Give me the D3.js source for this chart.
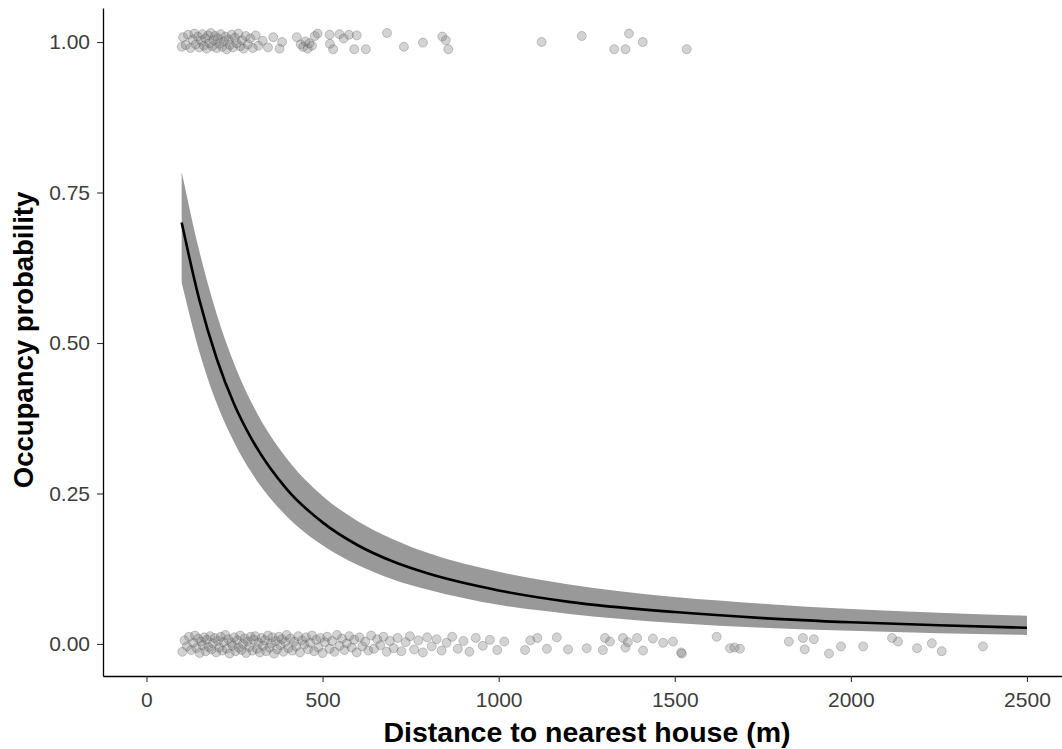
<!DOCTYPE html>
<html>
<head>
<meta charset="utf-8">
<script src="https://cdn.jsdelivr.net/npm/d3@7"></script>
<style>
  html, body { margin: 0; padding: 0; background: #fff; }
  svg { display: block; }
  text { font-family: "Liberation Sans", Arial, sans-serif; }
</style>
</head>
<body>
<svg id="chart" width="1062" height="749"></svg>
<script>
// ---------- data ----------
const xTicks = [0, 500, 1000, 1500, 2000, 2500];
const yTicks = [0, 0.25, 0.5, 0.75, 1.0];
const xTitle = "Distance to nearest house (m)";
const yTitle = "Occupancy probability";

// fitted curve and confidence band
const curveDist = [100, 150, 200, 250, 300, 400, 500, 600, 700, 800, 1000, 1200, 1500, 1750, 2000, 2250, 2500];
const fitP = [0.700, 0.572, 0.473, 0.397, 0.339, 0.256, 0.202, 0.164, 0.137, 0.117, 0.089, 0.070, 0.053, 0.043, 0.036, 0.031, 0.027];
const loP  = [0.600, 0.486, 0.399, 0.334, 0.283, 0.211, 0.164, 0.131, 0.107, 0.090, 0.065, 0.050, 0.035, 0.027, 0.022, 0.018, 0.015];
const hiP  = [0.784, 0.653, 0.547, 0.464, 0.399, 0.307, 0.246, 0.204, 0.174, 0.151, 0.120, 0.099, 0.078, 0.067, 0.058, 0.052, 0.047];

// occupied sites (jittered around 1)
const presentPoints = [
 [100,0.992],[104,1.008],[112,0.995],[118,1.012],[125,0.990],[131,1.004],[136,1.014],[140,0.996],[146,1.009],[150,0.991],
 [155,1.002],[159,1.013],[163,0.994],[167,1.006],[171,0.989],[175,1.011],[179,0.998],[183,1.015],[187,0.993],[191,1.003],
 [195,1.010],[199,0.990],[203,1.006],[207,0.997],[211,1.013],[215,0.992],[220,1.001],[224,1.009],[228,0.988],[233,1.004],
 [237,0.995],[242,1.012],[246,0.991],[251,1.007],[256,0.998],[261,1.014],[266,0.993],[271,1.003],[276,0.989],[282,1.010],
 [288,0.996],[295,1.006],[302,0.990],[310,1.011],[318,0.994],[330,1.002],[345,0.991],[360,1.008],[378,0.989],[385,1.000],
 [427,1.008],[438,0.996],[445,0.992],[452,1.001],[458,0.989],[463,0.998],[470,0.994],[478,1.010],[486,1.014],[520,1.012],
 [521,0.997],[530,0.988],[548,1.013],[560,1.006],[575,1.012],[590,0.988],[597,1.011],[623,0.988],[683,1.015],[731,0.992],
 [785,0.999],[840,1.009],[850,1.003],[857,0.988],[1122,1.000],[1236,1.010],[1328,0.988],[1360,0.988],[1370,1.014],[1409,1.000],
 [1534,0.988]
];

// unoccupied sites (jittered around 0)
const absentPoints = [
 [102,-0.013],[108,0.006],[115,-0.004],[121,0.012],[127,-0.010],[133,0.002],[138,0.014],[142,-0.007],[147,0.009],[151,-0.015],
 [156,0.004],[160,-0.002],[164,0.011],[168,-0.012],[172,0.007],[176,-0.005],[181,0.013],[185,-0.009],[189,0.001],[194,0.010],
 [198,-0.014],[203,0.005],[207,-0.006],[211,0.012],[215,-0.011],[219,0.003],[224,0.015],[228,-0.008],[232,0.008],[236,-0.016],
 [241,0.002],[245,-0.003],[249,0.011],[253,-0.012],[258,0.006],[262,-0.006],[266,0.014],[270,-0.010],[274,0.000],[279,0.009],
 [283,-0.015],[287,0.004],[292,-0.005],[296,0.012],[301,-0.011],[305,0.007],[309,0.013],[314,-0.008],[318,0.002],[322,-0.014],
 [327,0.010],[331,-0.003],[336,0.006],[340,-0.012],[345,0.014],[349,-0.006],[354,0.001],[358,0.011],[362,-0.016],[367,0.005],
 [371,-0.009],[376,0.012],[380,-0.002],[385,0.008],[389,-0.013],[394,0.003],[398,0.015],[403,-0.007],[409,0.009],[414,-0.011],
 [420,0.004],[425,-0.004],[431,0.013],[436,-0.014],[442,0.006],[448,-0.001],[453,0.011],[459,-0.009],[465,0.002],[470,0.014],
 [476,-0.012],[482,0.007],[488,-0.006],[494,0.010],[500,-0.015],[507,0.003],[513,0.012],[520,-0.008],[527,0.005],[534,-0.013],
 [541,0.015],[548,-0.003],[555,0.009],[562,-0.010],[569,0.001],[576,0.013],[583,-0.006],[590,0.007],[597,-0.014],[605,0.011],
 [613,-0.004],[621,0.004],[630,-0.011],[638,0.014],[646,-0.008],[655,0.008],[664,-0.002],[673,0.012],[682,-0.013],[691,0.005],
 [702,-0.007],[713,0.010],[724,-0.012],[736,0.003],[748,0.013],[760,-0.009],[772,0.006],[785,-0.014],[797,0.011],[810,-0.004],
 [824,0.008],[838,-0.011],[852,0.002],[868,0.012],[884,-0.008],[900,0.005],[917,-0.013],[935,0.010],[955,-0.003],[975,0.007],
 [996,-0.010],[1016,0.004],[1075,-0.010],[1090,0.006],[1110,0.010],[1137,-0.008],[1165,0.011],[1197,-0.009],[1250,-0.007],[1296,-0.010],
 [1302,0.010],[1316,0.004],[1353,0.010],[1360,-0.006],[1367,0.003],[1393,0.010],[1410,-0.011],[1438,0.009],[1467,0.002],[1495,0.004],
 [1518,-0.014],[1520,-0.016],[1619,0.012],[1657,-0.007],[1670,-0.006],[1685,-0.008],[1824,0.004],[1864,0.010],[1869,-0.009],[1895,0.008],
 [1938,-0.016],[1972,-0.004],[2035,-0.004],[2117,0.010],[2134,0.004],[2188,-0.007],[2230,0.001],[2258,-0.012],[2375,-0.004]
];

// ---------- drawing ----------
const svg = d3.select("#chart");
const x = d3.scaleLinear().domain([-123.4, 2599.5]).range([103, 1062]);
const y = d3.scaleLinear().domain([-0.0532, 1.0565]).range([676, 8]);

// points
const pts = svg.append("g");
[presentPoints, absentPoints].forEach(set => {
  pts.append("g").selectAll("circle").data(set).join("circle")
    .attr("cx", d => x(d[0])).attr("cy", d => y(d[1])).attr("r", 4.5)
    .attr("fill", "#7a7a7a").attr("fill-opacity", 0.33)
    .attr("stroke", "#555").attr("stroke-opacity", 0.3).attr("stroke-width", 1);
});

// ribbon
const band = curveDist.map((d, i) => ({ d, lo: loP[i], hi: hiP[i], f: fitP[i] }));
svg.append("path").datum(band)
  .attr("fill", "#999999")
  .attr("d", d3.area().curve(d3.curveMonotoneX)
    .x(d => x(d.d)).y0(d => y(d.lo)).y1(d => y(d.hi)));
svg.append("path").datum(band)
  .attr("fill", "none").attr("stroke", "#000").attr("stroke-width", 2.6)
  .attr("d", d3.line().curve(d3.curveMonotoneX).x(d => x(d.d)).y(d => y(d.f)));

// axes
const xAxis = svg.append("g").attr("transform", "translate(0,676)")
  .call(d3.axisBottom(x).tickValues(xTicks).tickFormat(d3.format("d")).tickSize(6).tickPadding(10).tickSizeOuter(0));
const yAxis = svg.append("g").attr("transform", "translate(103,0)")
  .call(d3.axisLeft(y).tickValues(yTicks).tickFormat(d3.format(".2f")).tickSize(6).tickPadding(7).tickSizeOuter(0));
[xAxis, yAxis].forEach(g => {
  g.select(".domain").attr("stroke", "#000").attr("stroke-width", 1.3);
  g.selectAll(".tick line").attr("stroke", "#333").attr("stroke-width", 1.1);
  g.selectAll(".tick text").attr("fill", "#3d3d3d")
    .style("font-size", "21px").style("font-family", "'Liberation Sans', Arial, sans-serif");
});

// titles
svg.append("text").attr("x", 587).attr("y", 742).attr("text-anchor", "middle")
  .style("font-size", "28.5px").style("font-weight", "bold").attr("fill", "#000").text(xTitle);
svg.append("text").attr("transform", "translate(33,340) rotate(-90)").attr("text-anchor", "middle")
  .style("font-size", "27.5px").style("font-weight", "bold").attr("fill", "#000").text(yTitle);
</script>
</body>
</html>
